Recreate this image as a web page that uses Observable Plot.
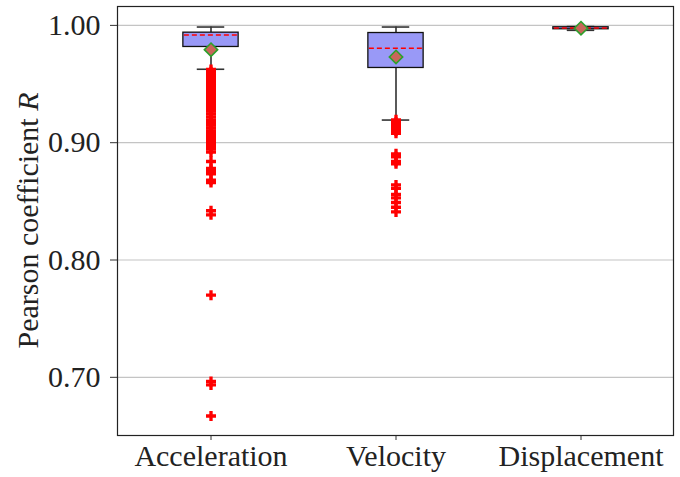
<!DOCTYPE html>
<html>
<head>
<meta charset="utf-8">
<script src="https://cdn.jsdelivr.net/npm/d3@7"></script>
<script src="https://cdn.jsdelivr.net/npm/@observablehq/plot@0.6"></script>
<style>
  html, body { margin: 0; padding: 0; background: #fff; }
</style>
</head>
<body>
<div id="chart"></div>
<script>
// Box-plot summary of the Pearson coefficient per signal type
const categories = ["Acceleration", "Velocity", "Displacement"];
const whiskerLow  = [0.9626, 0.9193, 0.9958];
const q1          = [0.9816, 0.9637, 0.9967];
const median      = [0.9918, 0.9805, 0.9978];
const q3          = [0.9938, 0.9935, 0.9984];
const whiskerHigh = [0.9986, 0.9986, 0.9990];
const mean        = [0.9793, 0.9731, 0.9976];

// Individual outliers beyond the whiskers
const accelerationOutliers = [
  0.9625, 0.9605, 0.9590, 0.9570, 0.9555, 0.9540, 0.9520, 0.9505, 0.9485, 0.9470,
  0.9450, 0.9430, 0.9410, 0.9395, 0.9375, 0.9355, 0.9335, 0.9310, 0.9290, 0.9270,
  0.9245, 0.9220, 0.9195, 0.9170, 0.9150, 0.9125, 0.9100, 0.9080, 0.9055, 0.9030,
  0.9010, 0.8995, 0.8980, 0.8960, 0.8945, 0.8920, 0.8840, 0.8780, 0.8760, 0.8735,
  0.8680, 0.8660, 0.8420, 0.8385, 0.7700, 0.6965, 0.6935, 0.6670
];
const velocityOutliers = [
  0.9195, 0.9175, 0.9160, 0.9140, 0.9120, 0.9100, 0.9080, 0.8905, 0.8880, 0.8840,
  0.8820, 0.8640, 0.8610, 0.8560, 0.8530, 0.8490, 0.8450, 0.8410
];
const displacementOutliers = [];

const yTicks = [0.70, 0.80, 0.90, 1.00];
const yDomain = [0.6504, 1.0161];

const boxes = categories.map((c, i) => ({
  category: c, lo: whiskerLow[i], q1: q1[i], median: median[i],
  q3: q3[i], hi: whiskerHigh[i], mean: mean[i]
}));
const outlierSets = [accelerationOutliers, velocityOutliers, displacementOutliers];
const outliers = outlierSets.flatMap((vals, i) =>
  vals.map(v => ({category: categories[i], value: v})));

const W = 680, H = 477;
const mL = 117, mR = 7, mT = 6, mB = 42;
const band = (W - mL - mR) / categories.length;
const boxW = band * 0.3;
const capW = boxW / 2;
const boxInset = (band - boxW) / 2;
const capInset = (band - capW) / 2;

const chart = Plot.plot({
  width: W,
  height: H,
  marginLeft: mL,
  marginRight: mR,
  marginTop: mT,
  marginBottom: mB,
  style: {
    fontFamily: "'Liberation Serif', 'DejaVu Serif', serif",
    fontSize: "30px",
    background: "#fff",
    color: "#000"
  },
  x: {type: "band", domain: categories, paddingInner: 0, paddingOuter: 0, label: null},
  y: {domain: yDomain, label: null},
  marks: [
    Plot.gridY(yTicks, {stroke: "#c4c4c4", strokeOpacity: 1, strokeWidth: 1.2}),
    Plot.axisY(yTicks, {tickFormat: d3.format(".2f"), tickSize: 7, tickPadding: 10, label: null, stroke: "#333", fill: "#222"}),
    Plot.axisX({tickSize: 5, tickPadding: 4, label: null, stroke: "#333", fill: "#222"}),
    // whiskers
    Plot.ruleX(boxes, {x: "category", y1: "lo", y2: "q1", stroke: "#000", strokeWidth: 1.3}),
    Plot.ruleX(boxes, {x: "category", y1: "q3", y2: "hi", stroke: "#000", strokeWidth: 1.3}),
    // caps
    Plot.tickY(boxes, {x: "category", y: "lo", stroke: "#333", strokeWidth: 1.6, insetLeft: capInset, insetRight: capInset}),
    Plot.tickY(boxes, {x: "category", y: "hi", stroke: "#333", strokeWidth: 1.6, insetLeft: capInset, insetRight: capInset}),
    // boxes
    Plot.rectY(boxes, {x: "category", y1: "q1", y2: "q3", fill: "#9999f7", stroke: "#111", strokeWidth: 1.3, insetLeft: boxInset, insetRight: boxInset}),
    // medians
    Plot.tickY(boxes, {x: "category", y: "median", stroke: "#ff0000", strokeWidth: 1.5, strokeDasharray: "5,3", insetLeft: boxInset + 1, insetRight: boxInset + 1}),
    // outliers
    Plot.dot(outliers, {x: "category", y: "value", symbol: "cross", r: 4.2, fill: "#ff0000", stroke: "none"}),
    // means
    Plot.dot(boxes, {x: "category", y: "mean", symbol: "diamond2", r: 6, fill: "#c9665a", stroke: "#2ca02c", strokeWidth: 1.6}),
    Plot.frame({stroke: "#222", strokeWidth: 1.2})
  ]
});

// y-axis title with an italic symbol
const svg = d3.select(chart);
const title = svg.append("text")
  .attr("transform", `translate(38, ${(mT + H - mB) / 2})` + " rotate(-90)")
  .attr("text-anchor", "middle")
  .attr("font-size", 30)
  .attr("fill", "#222");
title.append("tspan").text("Pearson coefficient ");
title.append("tspan").attr("font-style", "italic").text("R");

document.getElementById("chart").appendChild(chart);
</script>
</body>
</html>
